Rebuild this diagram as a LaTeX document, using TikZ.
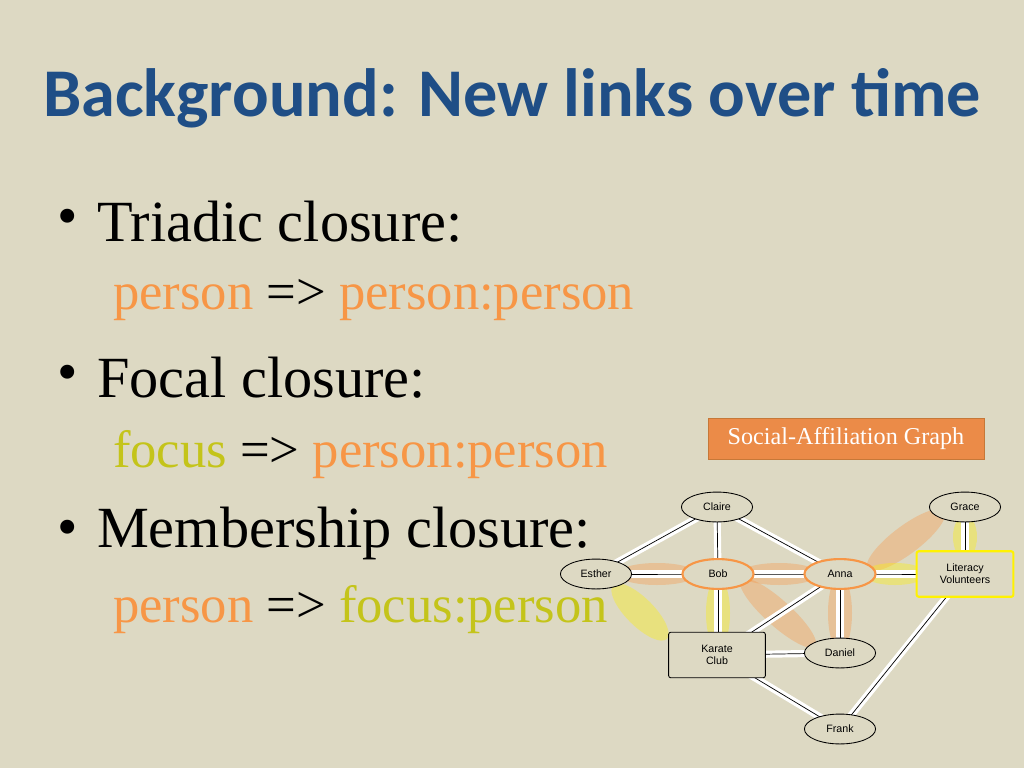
\documentclass[tikz,border=0pt]{standalone}
\usepackage{fontspec}
\setmainfont{Liberation Serif}
\newfontfamily\titlefont{Carlito}
\newfontfamily\graphfont{Liberation Sans}
\usetikzlibrary{shapes.geometric}
\definecolor{slidebg}{HTML}{DDD9C3}
\definecolor{titleblue}{HTML}{1F4E86}
\definecolor{pers}{HTML}{F79646}
\definecolor{foc}{HTML}{C4C41A}
\definecolor{tagfill}{HTML}{EB8B48}
\tikzset{
  bodytext/.style={anchor=west,font=\fontsize{41}{44}\selectfont},
  subtext/.style={anchor=west,font=\fontsize{37}{40}\selectfont},
  person/.style={ellipse,draw=black,fill=slidebg,line width=0.6pt,minimum width=50pt,minimum height=21pt,inner sep=0pt,font=\graphfont\fontsize{7.5}{8}\selectfont},
  focusbox/.style={rectangle,rounded corners=1.5pt,draw=black,fill=slidebg,line width=0.6pt,minimum width=68pt,minimum height=32pt,align=center,font=\graphfont\fontsize{7.5}{8.5}\selectfont},
  link/.style={draw=black,line width=0.5pt,preaction={draw=white,line width=5pt}},
  orangehl/.style={fill=pers,opacity=0.35},
  yellowhl/.style={fill=yellow,opacity=0.35},
}
\begin{document}
\begin{tikzpicture}[x=0.703pt,y=-0.703pt]
  \fill[slidebg] (0,0) rectangle (1024,768);
  \useasboundingbox (0,0) rectangle (1024,768);

  % title
  \node[text=titleblue,font=\titlefont\bfseries\fontsize{48}{52}\selectfont] (title) at (512,98) {Background: New links over time};

  % bullets
  \node[bodytext] (d1) at (52,222) {\textbullet};
  \node[bodytext] (b1) at (92,222) {Triadic closure:};
  \node[subtext] (s1) at (108,300) {\textcolor{pers}{person} => \textcolor{pers}{person:person}};
  \node[bodytext] (d2) at (52,378) {\textbullet};
  \node[bodytext] (b2) at (92,378) {Focal closure:};
  \node[subtext] (s2) at (108,455) {\textcolor{foc}{focus} => \textcolor{pers}{person:person}};
  \node[bodytext] (d3) at (52,533) {\textbullet};
  \node[bodytext] (b3) at (92,533) {Membership closure:};
  \node[subtext] (s3) at (108,610) {\textcolor{pers}{person} => \textcolor{foc}{focus:person}};

  % tag
  \node[draw=pers!80!black,fill=tagfill,text=white,minimum width=194pt,minimum height=29pt,font=\fontsize{17}{19}\selectfont] (tag) at (846,439) {Social-Affiliation Graph};

  % highlights
  \fill[orangehl] (657,574) ellipse (40 and 11);
  \fill[orangehl] (779,574) ellipse (40 and 11);
  \fill[orangehl,rotate around={37:(906,540)}] (906,540) ellipse (48 and 14);
  \fill[orangehl,rotate around={-42:(778,613)}] (778,613) ellipse (50 and 13);
  \fill[orangehl] (840,613) ellipse (12 and 38);
  \fill[yellowhl,rotate around={-45:(640,612)}] (640,612) ellipse (38 and 14);
  \fill[yellowhl] (718,613) ellipse (12 and 36);
  \fill[yellowhl] (895,574) ellipse (32 and 11);
  \fill[yellowhl] (965,537) ellipse (12 and 22);

  % graph
  \path[link] (717,507) -- (596,574);
  \path[link] (717,507) -- (718,574);
  \path[link] (717,507) -- (840,574);
  \path[link] (596,574) -- (718,574) -- (840,574) -- (965,574);
  \path[link] (965,507) -- (965,574);
  \path[link] (718,574) -- (718,655);
  \path[link] (840,574) -- (717,655);
  \path[link] (840,574) -- (840,653);
  \path[link] (717,655) -- (840,653);
  \path[link] (717,655) -- (840,729);
  \path[link] (965,574) -- (840,729);

  \node[person] (Claire) at (717,507) {Claire};
  \node[person] (Grace) at (965,507) {Grace};
  \node[person] (Esther) at (596,574) {Esther};
  \node[person,draw=pers,line width=1.5pt] (Bob) at (718,574) {Bob};
  \node[person,draw=pers,line width=1.5pt] (Anna) at (840,574) {Anna};
  \node[focusbox,draw=yellow,line width=1.5pt] (Literacy) at (965,574) {Literacy\\Volunteers};
  \node[focusbox] (Karate) at (717,655) {Karate\\Club};
  \node[person] (Daniel) at (840,653) {Daniel};
  \node[person] (Frank) at (840,729) {Frank};
\end{tikzpicture}
\end{document}
